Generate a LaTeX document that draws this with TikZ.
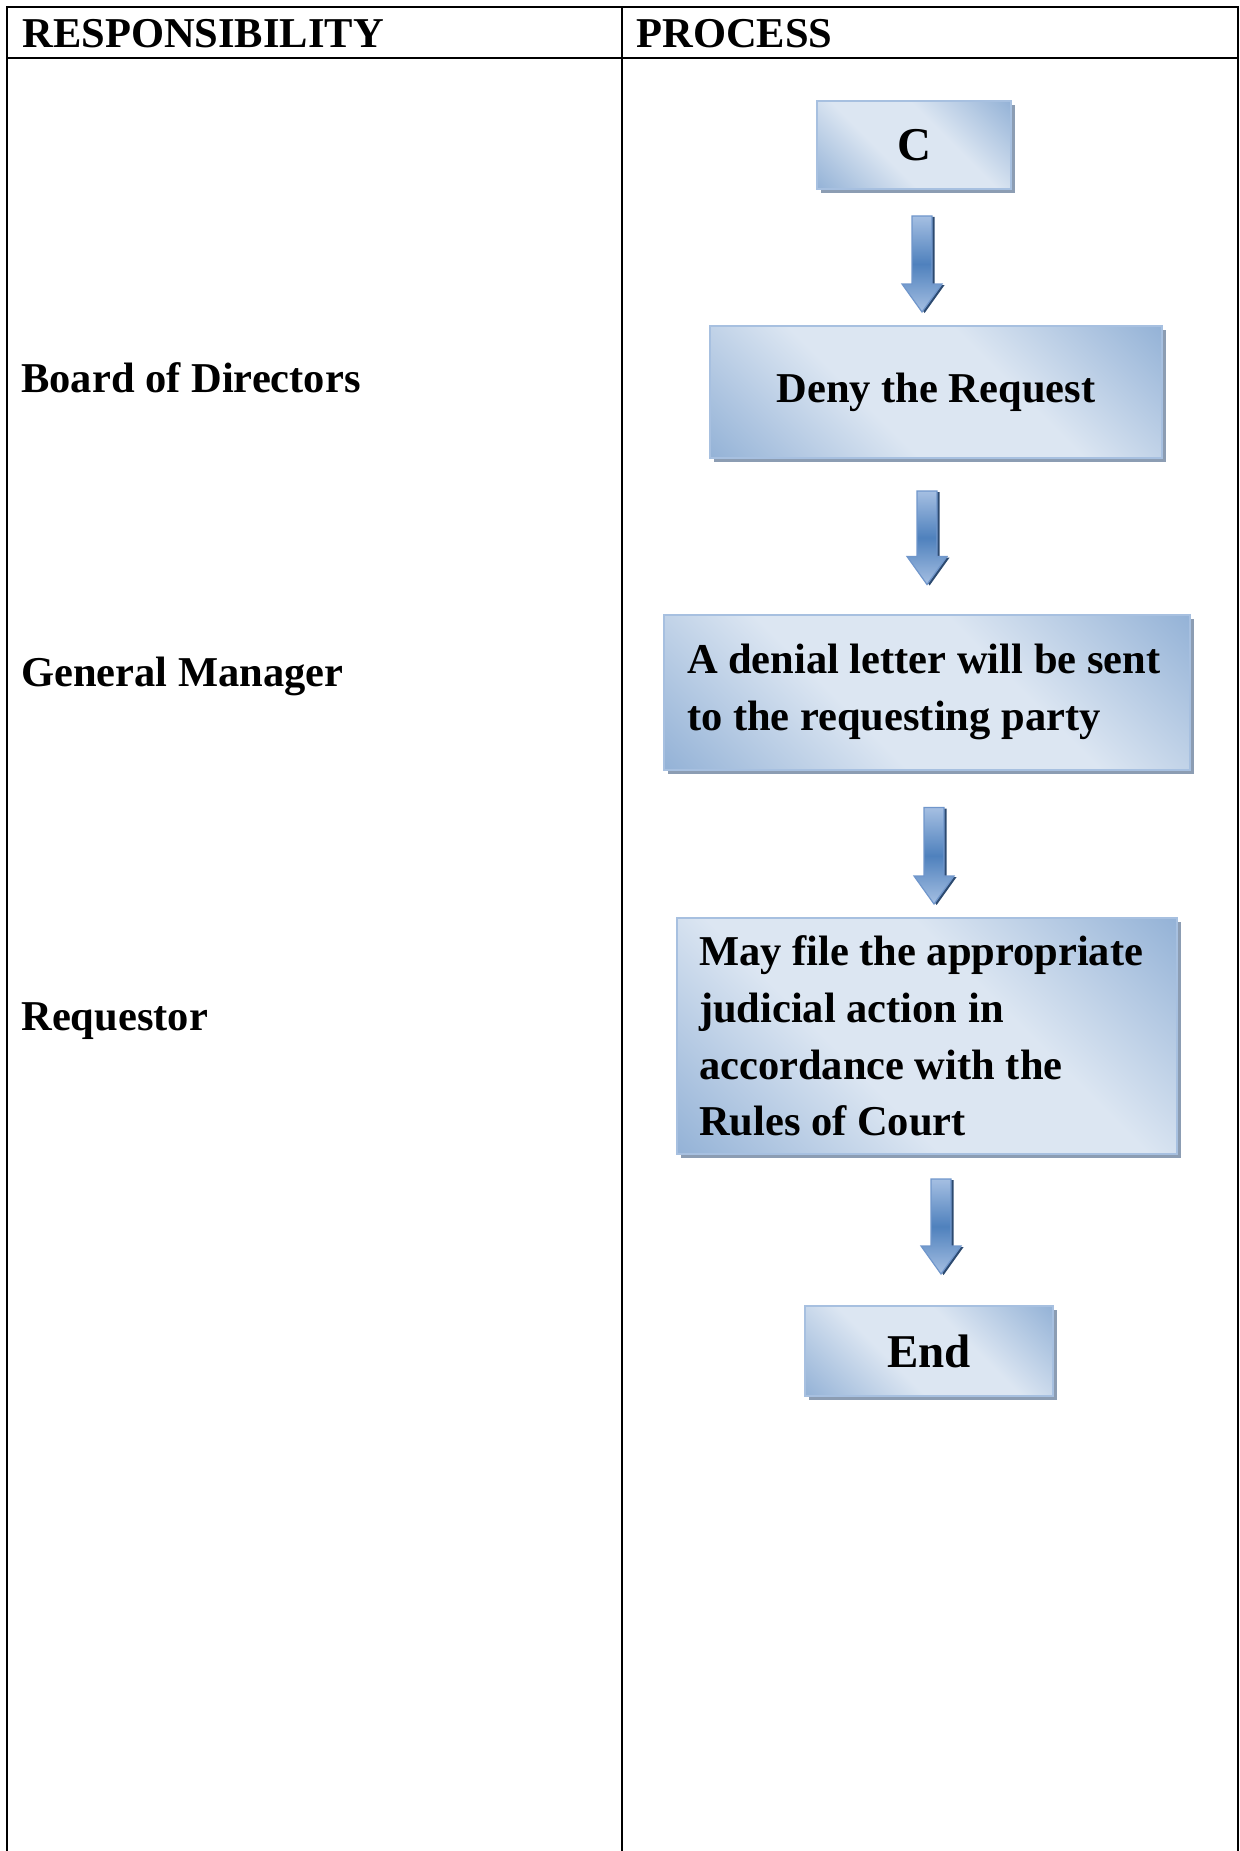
\documentclass[tikz,border=0pt]{standalone}
\usepackage{fontspec}
\setmainfont{Liberation Serif}
\usetikzlibrary{calc,shadows}

\definecolor{boxlight}{HTML}{DCE6F2}
\definecolor{boxdark}{HTML}{95B3D7}
\definecolor{boxline}{HTML}{A7C0E0}
\definecolor{boxshadow}{HTML}{8C9DB3}
\definecolor{arrowlight}{HTML}{A5BFE2}
\definecolor{arrowmid}{HTML}{4F81BD}
\definecolor{arrowline}{HTML}{7096CB}
\definecolor{arrowdark}{HTML}{2C4A70}

\pgfdeclareverticalshading{boxshade}{100bp}{color(0bp)=(boxdark); color(15bp)=(boxdark);
  color(40bp)=(boxlight); color(60bp)=(boxlight); color(85bp)=(boxdark); color(100bp)=(boxdark)}

\tikzset{
  procbox/.style={rectangle, draw=boxline, line width=1pt, inner sep=0pt,
    shading=boxshade, shading angle=-45,
    drop shadow={shadow xshift=2pt, shadow yshift=-2pt, fill=boxshadow, opacity=1},
    font=\fontsize{21.25pt}{28.3pt}\selectfont\bfseries},
  bigtext/.style={font=\fontsize{23.5pt}{28pt}\selectfont\bfseries},
  lanetext/.style={anchor=base west, inner sep=0pt, font=\fontsize{21.25pt}{28pt}\selectfont\bfseries},
  arrowbody/.style={draw=arrowline, line width=0.6pt,
    top color=arrowlight, bottom color=arrowlight, middle color=arrowmid,
    drop shadow={shadow xshift=1.3pt, shadow yshift=-0.5pt, fill=arrowdark, opacity=1}},
  tableline/.style={black, line width=1pt}
}

% block arrow: source, target, x shift, gap below source, gap above target
\newcommand{\flowarrow}[5]{%
  \path[arrowbody] let \p1=($(#1.south)+(#3,#4)$), \p2=($(#2.north)-(0,#5)$) in
    ({\x1-5pt},\y1) -- ({\x1+5pt},\y1) -- ({\x1+5pt},{\y2+14pt}) -- ({\x1+10pt},{\y2+14pt})
    -- (\x1,\y2) -- ({\x1-10pt},{\y2+14pt}) -- ({\x1-5pt},{\y2+14pt}) -- cycle;}

\begin{document}
\begin{tikzpicture}[x=0.5pt,y=-0.5pt]
\useasboundingbox (0,0) rectangle (1240,1851);

% table
\draw[tableline] (7,1851) -- (7,7) -- (1238,7) -- (1238,1851);
\draw[tableline] (7,58) -- (1238,58);
\draw[tableline] (622,7) -- (622,1851);

\node (hresp) at (22,48) [lanetext]{RESPONSIBILITY};
\node (hproc) at (636,48) [lanetext]{PROCESS};

\node (board) at (21,392) [lanetext]{Board of Directors};
\node (gm) at (21,686) [lanetext]{General Manager};
\node (req) at (21,1030) [lanetext]{Requestor};

% process boxes
\node (c) at (914,145) [procbox,bigtext,minimum width=97pt,minimum height=44pt]{C};
\node (deny) at (936,392) [procbox,minimum width=226pt,minimum height=66pt]{Deny the Request};
\node (letter) at (927,692) [procbox,align=flush left,text width=240pt,inner xsep=11.5pt,minimum height=77.5pt]{\mbox{A denial letter will be sent}\\to the requesting party};
\node (court) at (927,1036) [procbox,align=flush left,text width=228pt,inner xsep=11pt,minimum height=118pt]{\mbox{May file the appropriate}\\judicial action in\\accordance with the\\Rules of Court};
\node (end) at (929,1351) [procbox,bigtext,minimum width=124pt,minimum height=45pt]{End};

% arrows
\flowarrow{c}{deny}{8}{26}{13}
\flowarrow{deny}{letter}{-9}{32}{29}
\flowarrow{letter}{court}{7}{37}{13}
\flowarrow{court}{end}{14}{24}{31}

\end{tikzpicture}
\end{document}
